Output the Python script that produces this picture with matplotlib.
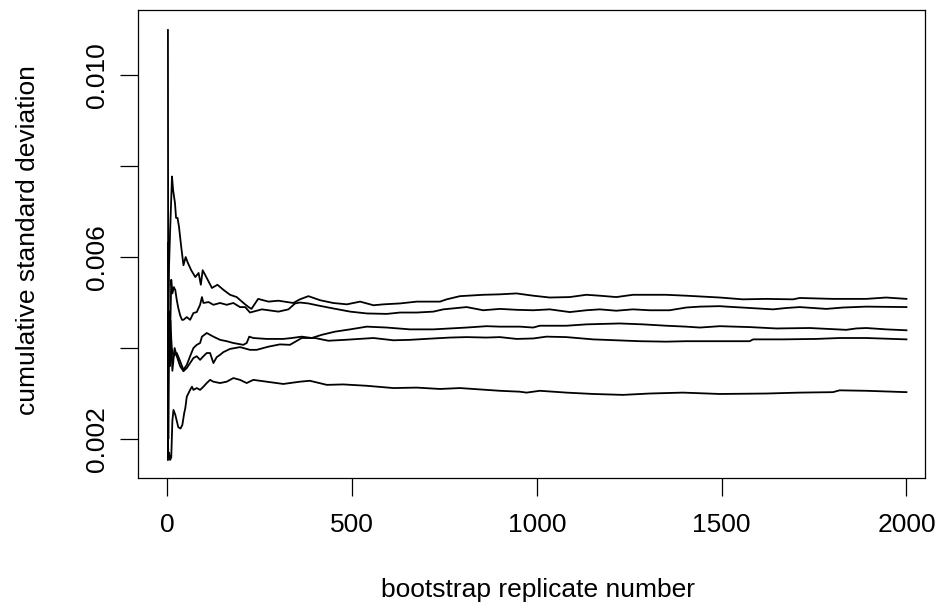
import matplotlib
matplotlib.use("Agg")
import matplotlib.pyplot as plt

plt.rcParams["font.family"] = ["Liberation Sans", "DejaVu Sans"]

# cumulative sd curves (replicate number, sd)
a_x = [2, 3, 5, 8, 13, 16, 21, 24, 28, 32, 38, 44, 50, 56, 65, 76, 85, 91, 96, 107,
       121, 136, 152, 170, 188, 205, 220, 228, 246, 274, 301, 341, 359, 382, 414, 449,
       486, 522, 558, 585, 630, 675, 738, 756, 792, 855, 900, 945, 990, 1035, 1089,
       1134, 1170, 1215, 1260, 1350, 1404, 1495, 1557, 1621, 1693, 1711, 1801, 1891,
       1945, 2000]
a_y = [0.00158, 0.0042, 0.0058, 0.0066, 0.00777, 0.00747, 0.00719, 0.00686, 0.00686,
       0.00666, 0.00622, 0.00582, 0.00600, 0.00587, 0.00571, 0.00556, 0.00565, 0.00539,
       0.00571, 0.00554, 0.00532, 0.00539, 0.00528, 0.00517, 0.00512, 0.00500, 0.00490,
       0.00486, 0.00508, 0.00502, 0.00504, 0.00499, 0.00507, 0.00514, 0.00505, 0.00499,
       0.00496, 0.00502, 0.00494, 0.00496, 0.00498, 0.00502, 0.00502, 0.00507, 0.00514,
       0.00517, 0.00518, 0.00520, 0.00515, 0.00511, 0.00512, 0.00517, 0.00515, 0.00512,
       0.00517, 0.00517, 0.00515, 0.00511, 0.00507, 0.00508, 0.00507, 0.00510, 0.00508,
       0.00508, 0.00511, 0.00508]

b_x = [2, 3, 5, 8, 11, 14, 18, 22, 26, 30, 35, 40, 44, 53, 62, 71, 80, 89, 94, 98, 112,
       125, 143, 161, 179, 197, 211, 224, 256, 301, 328, 346, 359, 382, 405, 449, 495,
       540, 594, 630, 675, 720, 747, 810, 855, 900, 945, 990, 1035, 1089, 1134, 1170,
       1215, 1260, 1305, 1359, 1404, 1441, 1495, 1513, 1576, 1639, 1675, 1711, 1783,
       1828, 1891, 2000]
b_y = [0.00631, 0.0038, 0.0048, 0.0043, 0.0055, 0.0052, 0.00534, 0.00527, 0.00505,
       0.00488, 0.00472, 0.00462, 0.00462, 0.00468, 0.00462, 0.00477, 0.00479, 0.00495,
       0.00512, 0.00499, 0.00501, 0.00495, 0.00499, 0.00495, 0.00499, 0.00490, 0.00490,
       0.00478, 0.00485, 0.00480, 0.00485, 0.00498, 0.00500, 0.00498, 0.00494, 0.00487,
       0.00480, 0.00476, 0.00475, 0.00478, 0.00478, 0.00480, 0.00485, 0.00490, 0.00483,
       0.00486, 0.00484, 0.00483, 0.00485, 0.00479, 0.00483, 0.00485, 0.00482, 0.00485,
       0.00483, 0.00483, 0.00489, 0.00491, 0.00492, 0.00491, 0.00488, 0.00485, 0.00488,
       0.00490, 0.00486, 0.00489, 0.00491, 0.00490]

c_x = [2, 3, 4, 6, 9, 12, 17, 26, 35, 44, 53, 62, 71, 80, 89, 94, 107, 125, 143, 161,
       179, 206, 215, 222, 233, 269, 314, 337, 364, 391, 418, 454, 495, 540, 594, 657,
       720, 765, 810, 864, 900, 954, 990, 1008, 1080, 1134, 1224, 1287, 1350, 1404,
       1441, 1495, 1576, 1648, 1738, 1837, 1864, 1891, 1945, 2000]
c_y = [0.01099, 0.0020, 0.0048, 0.0041, 0.0046, 0.0040, 0.00382, 0.00389, 0.00371,
       0.00352, 0.00363, 0.00382, 0.00400, 0.00407, 0.00411, 0.00425, 0.00433, 0.00425,
       0.00418, 0.00415, 0.00411, 0.00407, 0.00411, 0.00425, 0.00422, 0.00420, 0.00420,
       0.00422, 0.00425, 0.00422, 0.00429, 0.00436, 0.00441, 0.00447, 0.00445, 0.00441,
       0.00441, 0.00443, 0.00445, 0.00448, 0.00447, 0.00447, 0.00445, 0.00449, 0.00449,
       0.00452, 0.00454, 0.00452, 0.00449, 0.00447, 0.00445, 0.00448, 0.00446, 0.00443,
       0.00444, 0.00440, 0.00443, 0.00444, 0.00441, 0.00439]

d_x = [2, 3, 5, 7, 10, 14, 20, 26, 35, 44, 53, 62, 71, 80, 89, 98, 107, 116, 125, 134,
       143, 152, 170, 197, 224, 242, 274, 305, 332, 364, 400, 436, 481, 558, 612, 657,
       720, 765, 810, 864, 900, 945, 990, 1026, 1080, 1152, 1215, 1278, 1350, 1404,
       1495, 1576, 1585, 1666, 1756, 1819, 1891, 2000]
d_y = [0.00154, 0.0030, 0.0045, 0.0036, 0.0043, 0.0035, 0.0040, 0.00382, 0.00360,
       0.00349, 0.00356, 0.00367, 0.00378, 0.00382, 0.00374, 0.00382, 0.00389, 0.00389,
       0.00367, 0.00380, 0.00385, 0.00391, 0.00398, 0.00402, 0.00396, 0.00396, 0.00403,
       0.00408, 0.00407, 0.00422, 0.00422, 0.00416, 0.00418, 0.00422, 0.00417, 0.00418,
       0.00421, 0.00423, 0.00424, 0.00423, 0.00424, 0.00420, 0.00421, 0.00425, 0.00424,
       0.00419, 0.00417, 0.00415, 0.00414, 0.00415, 0.00415, 0.00415, 0.00419, 0.00419,
       0.00420, 0.00422, 0.00422, 0.00419]

e_x = [2, 3, 5, 8, 11, 14, 17, 22, 30, 36, 41, 46, 49, 53, 62, 67, 71, 80, 89, 98, 107,
       116, 125, 143, 161, 179, 197, 215, 233, 269, 314, 359, 386, 432, 476, 540, 612,
       675, 738, 792, 864, 900, 954, 972, 1008, 1080, 1152, 1233, 1305, 1395, 1495,
       1621, 1711, 1801, 1819, 1891, 2000]
e_y = [0.0021, 0.00158, 0.0017, 0.00154, 0.0016, 0.0024, 0.00264, 0.00253, 0.00226,
       0.00223, 0.00231, 0.00257, 0.00268, 0.00293, 0.00308, 0.00315, 0.00308, 0.00312,
       0.00308, 0.00315, 0.00323, 0.00330, 0.00326, 0.00323, 0.00326, 0.00334, 0.00330,
       0.00323, 0.00330, 0.00326, 0.00321, 0.00326, 0.00328, 0.00319, 0.00320, 0.00317,
       0.00312, 0.00313, 0.00310, 0.00312, 0.00308, 0.00306, 0.00304, 0.00302, 0.00306,
       0.00302, 0.00299, 0.00297, 0.00300, 0.00302, 0.00299, 0.00300, 0.00302, 0.00303,
       0.00307, 0.00306, 0.00303]

x_ticks = [0, 500, 1000, 1500, 2000]
y_ticks = [0.002, 0.004, 0.006, 0.008, 0.010]
y_tick_labels = ["0.002", "", "0.006", "", "0.010"]

fig = plt.figure(figsize=(9.4, 6.09), dpi=100)
ax = fig.add_axes([0.1468, 0.2151, 0.8372, 0.7685])

for xs, ys in [(a_x, a_y), (b_x, b_y), (c_x, c_y), (d_x, d_y), (e_x, e_y)]:
    ax.plot(xs, ys, color="black", lw=1.3)

ax.set_xlim(-79, 2050)
ax.set_ylim(0.001143, 0.01143)

ax.set_xticks(x_ticks)
ax.set_xticklabels([str(t) for t in x_ticks], fontsize=19)
ax.set_yticks(y_ticks)
ax.set_yticklabels(y_tick_labels, fontsize=19, rotation=90, va="center")
ax.tick_params(direction="out", length=13, width=0.9, color="black")
ax.tick_params(axis="x", pad=12)
ax.tick_params(axis="y", pad=8)
for s in ax.spines.values():
    s.set_linewidth(0.9)

fig.text(538 / 940, 1 - 590 / 609, "bootstrap replicate number",
         fontsize=19, ha="center", va="center")
fig.text(28 / 940, 1 - 240 / 609, "cumulative standard deviation",
         fontsize=19, ha="center", va="center", rotation=90)

fig.savefig("out.png", dpi=100)
